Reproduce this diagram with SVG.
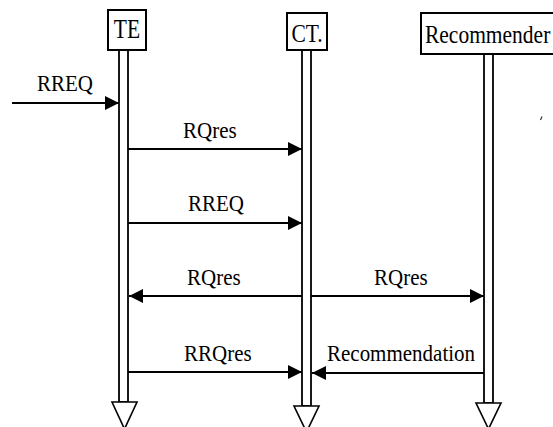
<svg xmlns="http://www.w3.org/2000/svg" width="553" height="427" viewBox="0 0 553 427">
  <style>
    .box { fill: #fff; stroke: #000; stroke-width: 2; }
    .life { fill: #fff; stroke: #000; stroke-width: 1.8; }
    .end { fill: #fff; stroke: #000; stroke-width: 1.6; }
    .msg { stroke: #000; stroke-width: 2; fill: none; }
    .t { font-family: 'Liberation Serif', 'DejaVu Serif', serif; font-size: 21px; fill: #000; }
    .hd { font-size: 21.5px; }
  </style>
  <defs>
    <marker id="arrow" markerUnits="userSpaceOnUse" markerWidth="15" markerHeight="14" refX="14" refY="7" orient="auto">
      <path d="M0,0 L14,7 L0,14 z" fill="#000"/>
    </marker>
  </defs>
  <rect width="553" height="427" fill="#fff"/>

  <!-- TE lifeline -->
  <g id="te">
    <rect class="life" x="119" y="50" width="9" height="352"/>
    <polygon class="end" points="112,402 137,402 124.5,429"/>
    <rect class="box" x="108" y="10" width="38" height="40"/>
    <text class="t hd" transform="translate(127,38) scale(1,1.25)" text-anchor="middle">TE</text>
  </g>

  <!-- CT lifeline -->
  <g id="ct">
    <rect class="life" x="302" y="50" width="9" height="356"/>
    <polygon class="end" points="294,406 319,406 306.5,432"/>
    <rect class="box" x="287" y="13" width="40" height="37"/>
    <text class="t hd" transform="translate(307,42) scale(1,1.2)" text-anchor="middle">CT.</text>
  </g>

  <!-- Recommender lifeline -->
  <g id="recommender">
    <rect class="life" x="484" y="54" width="9" height="349"/>
    <polygon class="end" points="476,403 501,403 488.5,429"/>
    <rect class="box" x="421" y="13" width="140" height="41"/>
    <text class="t hd" transform="translate(425,43) scale(1,1.2)">Recommender</text>
  </g>

  <!-- messages -->
  <g id="connectors">
    <line class="msg" x1="12" y1="103" x2="119" y2="103" marker-end="url(#arrow)"/>
    <line class="msg" x1="128" y1="149" x2="302" y2="149" marker-end="url(#arrow)"/>
    <line class="msg" x1="128" y1="223" x2="302" y2="223" marker-end="url(#arrow)"/>
    <line class="msg" x1="302" y1="296" x2="129" y2="296" marker-end="url(#arrow)"/>
    <line class="msg" x1="311" y1="296" x2="484" y2="296" marker-end="url(#arrow)"/>
    <line class="msg" x1="128" y1="372" x2="302" y2="372" marker-end="url(#arrow)"/>
    <line class="msg" x1="484" y1="373" x2="312" y2="373" marker-end="url(#arrow)"/>
  </g>

  <!-- message labels -->
  <g id="labels" class="t">
    <text transform="translate(37,91) scale(1,1.08)">RREQ</text>
    <text transform="translate(183,138) scale(1,1.08)">RQres</text>
    <text transform="translate(188,211) scale(1,1.08)">RREQ</text>
    <text transform="translate(187,285) scale(1,1.08)">RQres</text>
    <text transform="translate(374,285) scale(1,1.08)">RQres</text>
    <text transform="translate(184,361) scale(1,1.08)">RRQres</text>
    <text transform="translate(327,361) scale(1,1.08)">Recommendation</text>
  </g>

  <!-- small pen mark right of the recommender box -->
  <path d="M540.5,120 L542,116.5" stroke="#333" stroke-width="1.2"/>
</svg>
